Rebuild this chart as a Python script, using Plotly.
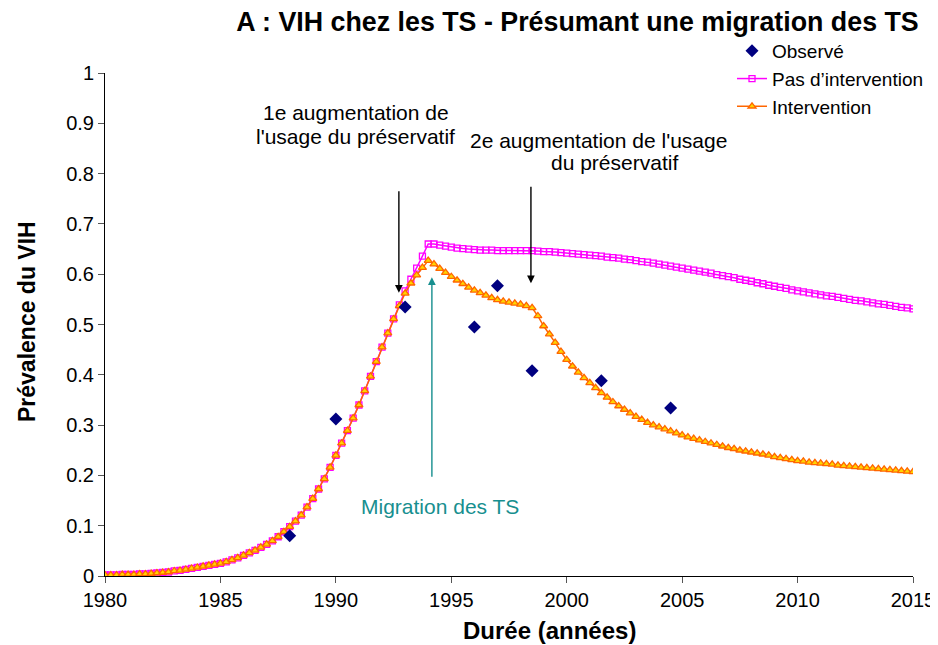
import plotly.graph_objects as go

# ---- data ----
start_year = 1980
step = 0.25

# Pas d'intervention (quarterly values 1980.00 .. 2015.00)
pas_intervention = [
    0.002, 0.002, 0.002, 0.003,   # 1980
    0.003, 0.003, 0.004, 0.004,   # 1981
    0.005, 0.006, 0.007, 0.008,   # 1982
    0.010, 0.011, 0.013, 0.015,   # 1983
    0.017, 0.019, 0.021, 0.023,   # 1984
    0.025, 0.028, 0.032, 0.036,   # 1985
    0.041, 0.046, 0.051, 0.057,   # 1986
    0.063, 0.070, 0.078, 0.088,   # 1987
    0.098, 0.109, 0.121, 0.137,   # 1988
    0.154, 0.173, 0.193, 0.216,   # 1989
    0.240, 0.264, 0.289, 0.314,   # 1990
    0.340, 0.368, 0.397, 0.426,   # 1991
    0.455, 0.483, 0.511, 0.539,   # 1992
    0.567, 0.590, 0.612, 0.636,   # 1993
    0.660, 0.660, 0.658, 0.656,   # 1994
    0.654, 0.652, 0.651, 0.650,   # 1995
    0.649, 0.648, 0.648, 0.648,   # 1996
    0.647, 0.647, 0.647, 0.647,   # 1997
    0.647, 0.647, 0.647, 0.646,   # 1998
    0.645, 0.645, 0.644, 0.643,   # 1999
    0.642, 0.641, 0.640, 0.639,   # 2000
    0.638, 0.637, 0.636, 0.634,   # 2001
    0.633, 0.632, 0.630, 0.629,   # 2002
    0.627, 0.625, 0.624, 0.622,   # 2003
    0.620, 0.618, 0.616, 0.614,   # 2004
    0.612, 0.610, 0.608, 0.606,   # 2005
    0.604, 0.602, 0.599, 0.597,   # 2006
    0.595, 0.593, 0.590, 0.588,   # 2007
    0.586, 0.583, 0.581, 0.578,   # 2008
    0.576, 0.574, 0.572, 0.569,   # 2009
    0.567, 0.565, 0.563, 0.561,   # 2010
    0.559, 0.557, 0.556, 0.554,   # 2011
    0.552, 0.550, 0.548, 0.547,   # 2012
    0.545, 0.543, 0.541, 0.540,   # 2013
    0.538, 0.536, 0.534, 0.533,   # 2014
    0.531,                        # 2015
]

# Intervention (quarterly values 1980.00 .. 2015.00)
intervention = [
    0.002, 0.002, 0.002, 0.003,   # 1980
    0.003, 0.003, 0.004, 0.004,   # 1981
    0.005, 0.006, 0.007, 0.008,   # 1982
    0.010, 0.011, 0.013, 0.015,   # 1983
    0.017, 0.019, 0.021, 0.023,   # 1984
    0.025, 0.028, 0.032, 0.036,   # 1985
    0.041, 0.046, 0.051, 0.057,   # 1986
    0.063, 0.070, 0.078, 0.088,   # 1987
    0.098, 0.109, 0.121, 0.137,   # 1988
    0.154, 0.173, 0.193, 0.216,   # 1989
    0.240, 0.264, 0.289, 0.314,   # 1990
    0.340, 0.368, 0.397, 0.426,   # 1991
    0.455, 0.483, 0.511, 0.537,   # 1992
    0.562, 0.582, 0.598, 0.613,   # 1993
    0.627, 0.620, 0.611, 0.603,   # 1994
    0.595, 0.588, 0.581, 0.574,   # 1995
    0.568, 0.563, 0.558, 0.553,   # 1996
    0.549, 0.546, 0.544, 0.542,   # 1997
    0.540, 0.537, 0.533, 0.517,   # 1998
    0.497, 0.481, 0.464, 0.446,   # 1999
    0.430, 0.417, 0.405, 0.394,   # 2000
    0.384, 0.374, 0.364, 0.355,   # 2001
    0.346, 0.338, 0.331, 0.324,   # 2002
    0.317, 0.311, 0.305, 0.300,   # 2003
    0.296, 0.292, 0.288, 0.284,   # 2004
    0.280, 0.276, 0.273, 0.270,   # 2005
    0.267, 0.264, 0.261, 0.258,   # 2006
    0.255, 0.253, 0.250, 0.248,   # 2007
    0.246, 0.244, 0.242, 0.240,   # 2008
    0.237, 0.235, 0.233, 0.231,   # 2009
    0.229, 0.228, 0.226, 0.225,   # 2010
    0.224, 0.223, 0.222, 0.220,   # 2011
    0.219, 0.218, 0.217, 0.216,   # 2012
    0.215, 0.214, 0.213, 0.212,   # 2013
    0.211, 0.210, 0.209, 0.208,   # 2014
    0.207,                        # 2015
]

observed_years = [1988.0, 1990.0, 1993.0, 1996.0, 1997.0, 1998.5, 2001.5, 2004.5]
observed_values = [0.080, 0.312, 0.535, 0.495, 0.577, 0.408, 0.388, 0.334]

x_ticks = [1980, 1985, 1990, 1995, 2000, 2005, 2010, 2015]
y_ticks = [0, 0.1, 0.2, 0.3, 0.4, 0.5, 0.6, 0.7, 0.8, 0.9, 1]

assert len(pas_intervention) == len(intervention) == 141
years = [start_year + step * i for i in range(len(pas_intervention))]

FONT = "Liberation Sans, Arial, sans-serif"
TEAL = "#178F8F"

fig = go.Figure()
fig.add_trace(go.Scatter(
    x=years, y=pas_intervention, mode="lines+markers",
    name="Pas d\u2019intervention", legendrank=2,
    line=dict(color="#FF00FF", width=1.5),
    marker=dict(symbol="square-open", size=6, color="#FF00FF", line=dict(width=1.3, color="#FF00FF")),
))
fig.add_trace(go.Scatter(
    x=years, y=intervention, mode="lines+markers",
    name="Intervention", legendrank=3,
    line=dict(color="#FF6600", width=1.5),
    marker=dict(symbol="triangle-up", size=7, color="#FFD400", line=dict(width=1.3, color="#FF6600")),
))
fig.add_trace(go.Scatter(
    x=observed_years, y=observed_values, mode="markers",
    name="Observé", legendrank=1,
    marker=dict(symbol="diamond", size=10, color="#000080"),
))

arrow_common = dict(text="", showarrow=True, arrowhead=2, arrowsize=1.1, arrowwidth=1.4,
                    axref="pixel", ayref="pixel")
txt_font = dict(size=21, color="black", family=FONT)
annotations = [
    dict(x=1992.73, y=0.563, ax=0, ay=-103, arrowcolor="black", **arrow_common),
    dict(x=1998.45, y=0.582, ax=0, ay=-98, arrowcolor="black", **arrow_common),
    dict(x=1994.16, y=0.594, ax=0, ay=201, arrowcolor=TEAL, **arrow_common),
    dict(x=1990.89, y=0.9205, text="1e augmentation de", showarrow=False, font=txt_font),
    dict(x=1990.83, y=0.8728, text="l'usage du préservatif", showarrow=False, font=txt_font),
    dict(x=2001.36, y=0.8668, text="2e augmentation de l'usage", showarrow=False, font=txt_font),
    dict(x=2002.05, y=0.8211, text="du préservatif", showarrow=False, font=txt_font),
    dict(x=1994.51, y=0.1372, text="Migration des TS", showarrow=False,
         font=dict(size=21, color=TEAL, family=FONT)),
    # axis titles (paper coordinates so they are drawn outside the plot area)
    dict(x=0.5501, y=-0.1074, xref="paper", yref="paper", xanchor="center", yanchor="middle",
         text="<b>Durée (années)</b>", showarrow=False,
         font=dict(size=24, color="black", family=FONT)),
    dict(x=-0.0965, y=0.505, xref="paper", yref="paper", xanchor="center", yanchor="middle",
         text="<b>Prévalence du VIH</b>", showarrow=False, textangle=-90,
         font=dict(size=23, color="black", family=FONT)),
]

# page has an 8px body margin; figure is sized so the plot lands on the reference pixels
fig.update_layout(
    width=938, height=637,
    paper_bgcolor="white", plot_bgcolor="white",
    margin=dict(l=97, r=33, t=65, b=69, autoexpand=False),
    font=dict(family=FONT, size=20, color="black"),
    title=dict(text="<b>A : VIH chez les TS - Présumant une migration des TS</b>",
               x=569.5 / 938, xanchor="center", xref="container",
               y=1 - 14 / 637, yanchor="middle", yref="container",
               font=dict(size=26.8, family=FONT, color="black")),
    legend=dict(x=0.776, y=1.0815, xanchor="left", yanchor="top",
                bgcolor="rgba(0,0,0,0)", font=dict(size=19, family=FONT),
                tracegroupgap=0, itemwidth=30),
    annotations=annotations,
    showlegend=True,
)
fig.update_xaxes(
    range=[1980, 2015], tickvals=x_ticks, ticktext=[str(v) for v in x_ticks],
    showline=True, linecolor="black", linewidth=1,
    ticks="outside", ticklen=6, tickcolor="#555555",
    showgrid=False, zeroline=False,
    tickfont=dict(size=20, family=FONT),
)
fig.update_yaxes(
    range=[0, 1], tickvals=y_ticks, ticktext=[("%g" % v) for v in y_ticks],
    showline=True, linecolor="black", linewidth=1,
    ticks="outside", ticklen=6, tickcolor="#555555",
    showgrid=False, zeroline=False,
    tickfont=dict(size=20, family=FONT),
)

fig.write_html("out.html")
